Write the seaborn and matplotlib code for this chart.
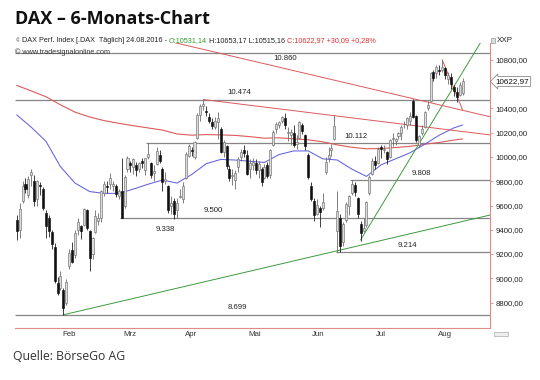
import numpy as np
import pandas as pd
import matplotlib
matplotlib.use("Agg")
import matplotlib.pyplot as plt
from matplotlib.transforms import blended_transform_factory
import seaborn as sns

# trading days, 20.01.2016 - 24.08.2016 (Xetra, Easter closed)
holidays = ["2016-03-25", "2016-03-28"]
dates = pd.bdate_range("2016-01-20", "2016-08-24", freq="C", holidays=holidays)

opens = [9480, 9400, 9640, 9780, 9690, 9850, 9800, 9650,
         9770, 9740, 9540, 9500, 9380, 9260, 8960, 8920, 8900, 8800, 9100, 9230, 9190, 9400, 9430,
         9440, 9560, 9390, 9200, 9380, 9470,
         9500, 9700, 9760, 9780, 9760, 9760, 9680, 9720, 9600, 9900, 9950, 9920, 9930, 9900, 9970,
         9890, 10000, 9950, 9870, 9940, 10020,
         9900, 9800, 9760, 9600, 9640, 9560, 9670, 9650, 9830, 10010, 10060, 10000, 10160, 10350,
         10420, 10380, 10330, 10290, 10250, 10290, 10230,
         10040, 10090, 9900, 9840, 9810, 9920, 10000, 10060, 10020, 9900, 9930, 9950, 9890, 9900,
         9830, 9930, 9850, 10100, 10230, 10260, 10300, 10320,
         10200, 10180, 10200, 10110, 10160, 10260, 10180, 10020, 9760, 9640, 9530, 9580, 9580,
         9880, 9990, 10060, 10150, 9390, 9500, 9300, 9480, 9600,
         9700, 9770, 9660, 9450, 9390, 9440, 9700, 9860, 9970, 9950, 10080, 10060, 10040, 10000,
         10150, 10130, 10170, 10200, 10270, 10260, 10300,
         10460, 10340, 10100, 10200, 10250, 10400, 10460, 10700, 10690, 10720, 10720, 10730,
         10640, 10660, 10580, 10540, 10510, 10531.14]
highs = [9520, 9620, 9800, 9830, 9840, 9900, 9850, 9810,
         9790, 9750, 9560, 9520, 9400, 9290, 9010, 9060, 8920, 8990, 9240, 9300, 9400, 9500, 9440,
         9580, 9570, 9400, 9340, 9560, 9540,
         9730, 9800, 9800, 9870, 9800, 9780, 9740, 9995, 9850, 10010, 9970, 9990, 9960, 9960, 9990,
         9990, 10112, 9960, 9930, 10080, 10060,
         9920, 9880, 9770, 9680, 9660, 9660, 9740, 9790, 10040, 10110, 10080, 10130, 10360, 10440,
         10474, 10420, 10360, 10320, 10330, 10370, 10250,
         10140, 10100, 9930, 9900, 9890, 10000, 10070, 10100, 10060, 9980, 9990, 9980, 9970, 9920,
         9940, 9960, 10070, 10220, 10290, 10300, 10340, 10360,
         10250, 10230, 10260, 10180, 10300, 10280, 10190, 10030, 9790, 9660, 9650, 9600, 9700,
         10000, 10080, 10110, 10350, 9720, 9530, 9460, 9630, 9690,
         9808, 9790, 9670, 9470, 9500, 9640, 9850, 9990, 10010, 10080, 10100, 10100, 10050, 10150,
         10200, 10160, 10210, 10260, 10300, 10330, 10370,
         10480, 10350, 10180, 10260, 10380, 10460, 10700, 10720, 10760, 10760, 10802, 10740,
         10700, 10690, 10590, 10580, 10620, 10653.17]
lows = [9314, 9330, 9620, 9700, 9660, 9760, 9600, 9600,
        9690, 9560, 9330, 9340, 9240, 8960, 8860, 8900, 8699, 8780, 9080, 9130, 9170, 9360, 9320,
        9430, 9400, 9060, 9160, 9370, 9440,
        9460, 9680, 9700, 9740, 9720, 9670, 9650, 9498, 9580, 9880, 9880, 9860, 9840, 9880, 9910,
        9850, 9980, 9830, 9800, 9930, 9950,
        9720, 9780, 9540, 9530, 9490, 9500, 9660, 9620, 9820, 10000, 10010, 9980, 10150, 10300,
        10390, 10340, 10280, 10230, 10230, 10150, 10030,
        10000, 9900, 9800, 9770, 9740, 9880, 9970, 10000, 9850, 9830, 9890, 9860, 9830, 9760,
        9820, 9830, 9830, 10090, 10200, 10240, 10280, 10230,
        10130, 10100, 10080, 10070, 10150, 10190, 10060, 9820, 9640, 9470, 9520, 9420, 9560,
        9860, 9960, 10010, 10140, 9214, 9220, 9270, 9460, 9520,
        9690, 9680, 9500, 9308, 9380, 9420, 9690, 9850, 9900, 9940, 9990, 10030, 9940, 9990,
        10090, 10100, 10150, 10140, 10240, 10230, 10260,
        10320, 10120, 10080, 10180, 10240, 10390, 10450, 10630, 10650, 10680, 10700, 10640,
        10600, 10560, 10500, 10450, 10500, 10515.16]
closes = [9391, 9574, 9764, 9736, 9822, 9880, 9639, 9798,
          9757, 9581, 9434, 9393, 9286, 8979, 8879, 9017, 8752, 8967, 9207, 9135, 9377, 9463, 9388,
          9573, 9416, 9167, 9331, 9513, 9495,
          9717, 9776, 9751, 9824, 9778, 9692, 9723, 9498, 9831, 9990, 9933, 9983, 9892, 9950, 9948,
          9990, 10022, 9851, 9887, 10046, 9965,
          9794, 9822, 9563, 9624, 9530, 9622, 9682, 9761, 10026, 10093, 10051, 10120, 10349, 10421,
          10435, 10373, 10294, 10259, 10299, 10321, 10039,
          10123, 9926, 9828, 9851, 9870, 9980, 10045, 10036, 9862, 9952, 9960, 9890, 9943, 9795,
          9916, 9842, 10057, 10205, 10272, 10286, 10333, 10262,
          10204, 10208, 10103, 10121, 10288, 10217, 10089, 9834, 9657, 9519, 9606, 9550, 9631,
          9962, 10015, 10071, 10257, 9557, 9268, 9447, 9612, 9680,
          9776, 9709, 9532, 9373, 9418, 9629, 9833, 9964, 9930, 10068, 10066, 10063, 9981, 10142,
          10156, 10147, 10198, 10247, 10274, 10319, 10337,
          10330, 10144, 10170, 10228, 10367, 10432, 10693, 10651, 10743, 10713, 10739, 10677,
          10679, 10603, 10544, 10494, 10592.88, 10622.97]

# moving averages read every 5 trading days (+ last day)
ma_fast = [10347, 10245, 10130, 9920, 9785, 9715, 9700, 9700, 9735, 9775, 9810, 9785, 9855,
           9945, 9980, 9975, 9965, 9955, 10020, 10050, 10050, 9985, 9975, 9900, 9840, 9935,
           9985, 10035, 10105, 10180, 10240, 10264]
ma_slow = [10590, 10545, 10497, 10430, 10370, 10330, 10300, 10278, 10258, 10240, 10222, 10190,
           10180, 10185, 10182, 10178, 10168, 10155, 10158, 10150, 10142, 10125, 10100, 10080,
           10068, 10070, 10078, 10088, 10105, 10120, 10140, 10149]

# support / resistance levels
level_values = [10860, 10474, 10112, 9808, 9500, 9214, 8699]
level_starts = ["2016-01-20", "2016-01-20", "2016-03-23", "2016-07-01",
                "2016-03-10", "2016-06-24", "2016-01-20"]
level_texts = ["10.860", "10.474", "10.112", "9.808", "9.500", "9.214", "8.699"]
note_text = "9.338"

# trend lines: two anchors each
trend_dates = [("2016-02-11", "2016-06-24"), ("2016-07-06", "2016-08-24"),
               ("2016-04-12", "2016-08-24"), ("2016-04-21", "2016-08-24"),
               ("2016-08-15", "2016-08-24")]
trend_values = [(8699, 9227), (9316, 10700), (10927, 10385), (10474, 10210), (10802, 10388)]

quelle = "Quelle: BörseGo AG"

# ---------------------------------------------------------------
sns.set_style("white")
plt.rcParams["font.family"] = ["Liberation Sans", "DejaVu Sans"]

W, H = 540, 380
fig = plt.figure(figsize=(W / 100, H / 100), dpi=100)
ax = fig.add_axes([15 / W, 1 - 328 / H, 475 / W, 285 / H])
pos = {d.strftime("%Y-%m-%d"): i for i, d in enumerate(dates)}
x = np.arange(len(dates))
xmax = 162.4
ax.set_xlim(-0.6, xmax)
ax.set_ylim(8590, 10940)

red = "#dc5a5a"
grey_line = "#858585"

# levels
for v, s, t in zip(level_values, level_starts, level_texts):
    ax.hlines(v, pos[s] - 0.6, xmax, color=grey_line, lw=0.9, zorder=1)
label_x = [92.2, 76.3, 116.4, 138.8, 67.5, 134.1, 75.6]
label_dy = [-2, 2.5, 2.5, 2.5, 2.5, 2.5, 2.5]
for v, t, lx, dy in zip(level_values, level_texts, label_x, label_dy):
    ax.annotate(t, (lx, v), xytext=(0, dy), textcoords="offset points", ha="center",
                va="bottom" if dy > 0 else "top", fontsize=5.6, color="#222222")
ax.annotate(note_text, (50.9, 9500), xytext=(0, -6), textcoords="offset points",
            ha="center", va="top", fontsize=5.6, color="#222222")

# moving averages
ma_x = list(range(0, 151, 5)) + [len(dates) - 1]
sns.lineplot(x=ma_x, y=ma_slow, ax=ax, color=red, lw=0.8, zorder=2)
sns.lineplot(x=ma_x, y=ma_fast, ax=ax, color="#6262e0", lw=0.75, zorder=2)

# trend lines
trend_colors = ["#3f9a3f", "#3f9a3f", red, red, red]
trend_extend = [(False, True), (False, True), (True, True), (False, True), (False, False)]
for (d0, d1), (v0, v1), col, (el, er) in zip(trend_dates, trend_values, trend_colors, trend_extend):
    x0, x1 = pos[d0], pos[d1]
    k = (v1 - v0) / (x1 - x0)
    xa = -0.6 if el else x0
    xb = xmax if er else x1
    ax.plot([xa, xb], [v0 + k * (xa - x0), v0 + k * (xb - x0)], color=col, lw=0.7, zorder=2)

# candles
o, h, l, c = (np.array(a, dtype=float) for a in (opens, highs, lows, closes))
up = c >= o
ax.vlines(x[up], l[up], h[up], color="#6a6a6a", lw=0.6, zorder=3)
ax.vlines(x[~up], l[~up], h[~up], color="#202020", lw=0.6, zorder=3)
body = np.maximum(np.abs(c - o), 6)
ax.bar(x[up], body[up], bottom=np.minimum(o, c)[up], width=0.7, color="#dcdcdc",
       edgecolor="#707070", lw=0.45, zorder=4)
ax.bar(x[~up], body[~up], bottom=np.minimum(o, c)[~up], width=0.7, color="#111111",
       edgecolor="#111111", lw=0.45, zorder=4)

# axes styling
for side in ["top", "left"]:
    ax.spines[side].set_visible(False)
for side in ["right", "bottom"]:
    ax.spines[side].set_color("#e08a8a")
    ax.spines[side].set_linewidth(0.8)
ax.yaxis.tick_right()
yt = [v for v in range(8800, 10801, 200) if v != 10600]
ax.set_yticks(yt)
ax.set_yticklabels([f"{v:.2f}".replace(".", ",") for v in yt])
ax.tick_params(axis="y", length=2.5, width=0.6, color="#e08a8a", labelsize=5.6,
               labelcolor="#222222", pad=1.5)

month_start = [i for i in range(len(dates)) if i > 0 and dates[i].month != dates[i - 1].month]
month_mid = []
for j, s in enumerate(month_start):
    e = month_start[j + 1] if j + 1 < len(month_start) else s + 23
    month_mid.append((s + e) / 2 - 0.5)
month_names = {2: "Feb", 3: "Mrz", 4: "Apr", 5: "Mai", 6: "Jun", 7: "Jul", 8: "Aug"}
ax.set_xticks(month_start)
ax.set_xticklabels([])
ax.set_xticks(month_mid, minor=True)
ax.set_xticklabels([month_names[dates[s].month] for s in month_start], minor=True)
ax.tick_params(axis="x", which="major", length=2.5, width=0.6, color="#aaaaaa", direction="out")
ax.tick_params(axis="x", which="minor", length=0, labelsize=5.7, labelcolor="#333333", pad=2.5)

# price tag
tr = blended_transform_factory(ax.transAxes, ax.transData)
ax.text(1.012, c[-1], f"{c[-1]:.2f}".replace(".", ","), transform=tr, fontsize=5.8,
        va="center", ha="left", color="#111111",
        bbox=dict(boxstyle="larrow,pad=0.18", fc="white", ec="#8a8a8a", lw=0.6))

# header texts
fig.text(15 / W, 1 - 19 / H, "DAX – 6-Monats-Chart", fontsize=13, fontweight="bold",
         family=["Open Sans", "DejaVu Sans"], color="#111111", va="center")

chg = c[-1] - c[-2]
pct = chg / c[-2] * 100
fmt = lambda v: f"{v:.2f}".replace(".", ",")
pieces = [("DAX Perf. Index [.DAX  Täglich] " + dates[-1].strftime("%d.%m.%Y") + " - ", "#222222"),
          ("O:" + fmt(o[-1]), "#2f9e2f"),
          (" H:" + fmt(h[-1]) + " L:" + fmt(l[-1]) + " ", "#222222"),
          ("C:" + fmt(c[-1]) + " +" + fmt(chg) + " +" + fmt(pct) + "%", "#e03030")]
renderer = fig.canvas.get_renderer()
px = 22
for txt, col in pieces:
    t = fig.text(px / W, 1 - 41 / H, txt, fontsize=5.2, color=col, va="center")
    px += t.get_window_extent(renderer).width
fig.text(15 / W, 1 - 41 / H, "¢", fontsize=5, color="#777777", va="center")
fig.text(15 / W, 1 - 52 / H, "© www.tradesignalonline.com", fontsize=5.2, color="#333333",
         va="center")
fig.text(497 / W, 1 - 40 / H, "XXP", fontsize=5.8, color="#222222", va="center")
fig.patches.append(plt.Rectangle((491 / W, 1 - 43 / H), 4 / W, 5 / H, transform=fig.transFigure,
                                 fc="#dddddd", ec="#999999", lw=0.5))
fig.patches.append(plt.Rectangle((494 / W, 1 - 336 / H), 14 / W, 4 / H, transform=fig.transFigure,
                                 fc="#eeeeee", ec="#aaaaaa", lw=0.5))

fig.text(13 / W, 1 - 356 / H, quelle, fontsize=8.8, family=["Open Sans", "DejaVu Sans"],
         color="#333333", va="center")

fig.savefig("out.png", dpi=100)
